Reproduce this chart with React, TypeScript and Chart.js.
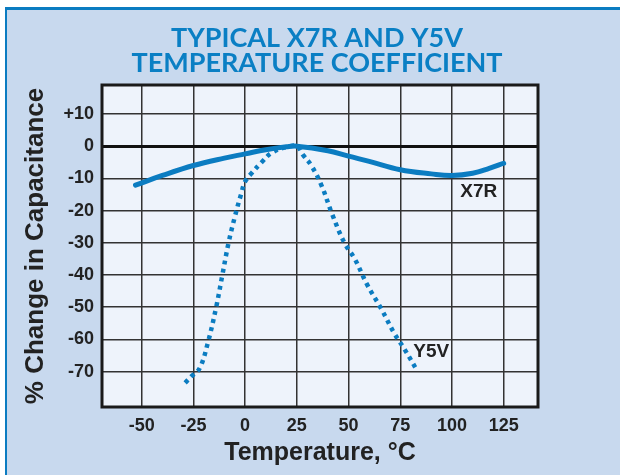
import React, { useEffect, useRef } from "react";
import { Chart, registerables } from "chart.js";

Chart.register(...registerables);

const titleLines = ["TYPICAL X7R AND Y5V", "TEMPERATURE COEFFICIENT"];
const xAxisTitle = "Temperature, °C";
const yAxisTitle = "% Change in Capacitance";

const xTicks = [-50, -25, 0, 25, 50, 75, 100, 125];
const yTicks = [10, 0, -10, -20, -30, -40, -50, -60, -70];

const x7rTemps = [-53, -40, -25, -10, 0, 10, 20, 25, 40, 50, 60, 75, 90, 100, 110, 118, 125];
const x7rChange = [-12.1, -9.1, -6.0, -3.7, -2.4, -1.1, -0.2, 0, -1.4, -3.1, -4.7, -7.3, -8.6, -9.1, -8.4, -6.9, -5.3];

const y5vTemps = [-29, -26, -22, -18, -14, -11, -8, -5, -2, 0, 3, 8, 13, 20, 25, 28, 32, 37, 42, 48, 53, 59, 66, 72, 77, 83];
const y5vChange = [-73.5, -71.5, -69, -61, -50, -40, -30, -22, -15, -11, -8.5, -5, -2, -0.3, 0, -2.7, -6, -12.3, -21, -30, -35, -43, -50.7, -58, -63, -69.5];

const seriesLabels = [
  { text: "X7R", x: 113, y: -14.2 },
  { text: "Y5V", x: 90, y: -64 },
];

const BLUE = "#0b7cc1";

const decorPlugin = {
  id: "decor",
  beforeDraw(chart: any) {
    const { ctx, width, height, chartArea } = chart;
    ctx.save();
    ctx.fillStyle = "#ffffff";
    ctx.fillRect(0, 0, width, height);
    ctx.fillStyle = "#c8d9ee";
    ctx.fillRect(5, 7, width - 5, height - 7);
    ctx.fillStyle = BLUE;
    ctx.fillRect(5, 7, width - 5, 3);
    ctx.fillRect(5, 7, 2, height - 7);
    ctx.fillStyle = "#eef3fb";
    ctx.fillRect(chartArea.left, chartArea.top, chartArea.right - chartArea.left, chartArea.bottom - chartArea.top);
    ctx.fillStyle = "#0a7fc4";
    ctx.font = "bold 27px Lato";
    ctx.textAlign = "center";
    ctx.textBaseline = "middle";
    ctx.fillText(titleLines[0], 317, 38);
    ctx.fillText(titleLines[1], 317, 63);
    ctx.restore();
  },
  afterDraw(chart: any) {
    const { ctx, chartArea, scales } = chart;
    ctx.save();
    ctx.strokeStyle = "#1a1a1a";
    ctx.lineWidth = 3;
    ctx.strokeRect(chartArea.left, chartArea.top, chartArea.right - chartArea.left, chartArea.bottom - chartArea.top);
    ctx.fillStyle = "#222222";
    ctx.font = "bold 19px 'Liberation Sans', Arial, sans-serif";
    ctx.textAlign = "center";
    ctx.textBaseline = "middle";
    seriesLabels.forEach((l) => {
      ctx.fillText(l.text, scales.x.getPixelForValue(l.x), scales.y.getPixelForValue(l.y));
    });
    ctx.restore();
  },
};

export default function App() {
  const ref = useRef<HTMLCanvasElement | null>(null);

  useEffect(() => {
    if (!ref.current) return;
    const tickFont = { family: "'Liberation Sans', Arial, sans-serif", size: 18, weight: "bold" as const };
    const chart = new Chart(ref.current, {
      type: "line",
      data: {
        datasets: [
          {
            label: "X7R",
            data: x7rTemps.map((t, i) => ({ x: t, y: x7rChange[i] })),
            borderColor: BLUE,
            borderWidth: 5,
            pointRadius: 0,
            tension: 0.4,
            fill: false,
            borderCapStyle: "round",
          },
          {
            label: "Y5V",
            data: y5vTemps.map((t, i) => ({ x: t, y: y5vChange[i] })),
            borderColor: BLUE,
            borderWidth: 4.5,
            borderDash: [4, 4.5],
            borderCapStyle: "butt",
            pointRadius: 0,
            tension: 0.4,
            fill: false,
          },
        ],
      },
      options: {
        animation: false,
        responsive: false,
        maintainAspectRatio: false,
        layout: { padding: { top: 85, right: 82, left: 0, bottom: 0 } },
        plugins: { legend: { display: false }, title: { display: false }, tooltip: { enabled: false } },
        scales: {
          x: {
            type: "linear",
            min: -69.2,
            max: 141.6,
            afterBuildTicks: (scale: any) => {
              scale.ticks = xTicks.map((v) => ({ value: v }));
            },
            afterFit: (scale: any) => {
              scale.height = 68;
            },
            border: { display: false },
            grid: { color: "#333333", lineWidth: 1.5, drawTicks: false },
            ticks: { font: tickFont, color: "#222", padding: 8, maxRotation: 0, autoSkip: false },
            title: {
              display: true,
              text: xAxisTitle,
              font: { family: "'Liberation Sans', Arial, sans-serif", size: 25, weight: "bold" },
              color: "#222",
              padding: { top: 0, bottom: 7 },
            },
          },
          y: {
            type: "linear",
            min: -81,
            max: 19,
            afterBuildTicks: (scale: any) => {
              scale.ticks = yTicks.map((v) => ({ value: v }));
            },
            afterFit: (scale: any) => {
              scale.width = 102;
            },
            border: { display: false },
            grid: {
              color: (c: any) => (c.tick && c.tick.value === 0 ? "#111" : "#333333"),
              lineWidth: (c: any) => (c.tick && c.tick.value === 0 ? 3 : 1.5),
              drawTicks: false,
            },
            ticks: {
              font: tickFont,
              color: "#222",
              padding: 8,
              autoSkip: false,
              callback: (v: any) => (Number(v) > 0 ? "+" + v : String(v)),
            },
            title: {
              display: true,
              text: yAxisTitle,
              font: { family: "'Liberation Sans', Arial, sans-serif", size: 26, weight: "bold" },
              color: "#222",
              padding: { top: 20, bottom: 0 },
            },
          },
        },
      },
      plugins: [decorPlugin],
    });
    return () => chart.destroy();
  }, []);

  return (
    <div style={{ position: "fixed", left: 0, top: 0, width: 620, height: 475 }}>
      <canvas ref={ref} width={620} height={475} style={{ display: "block", width: 620, height: 475 }} />
    </div>
  );
}
